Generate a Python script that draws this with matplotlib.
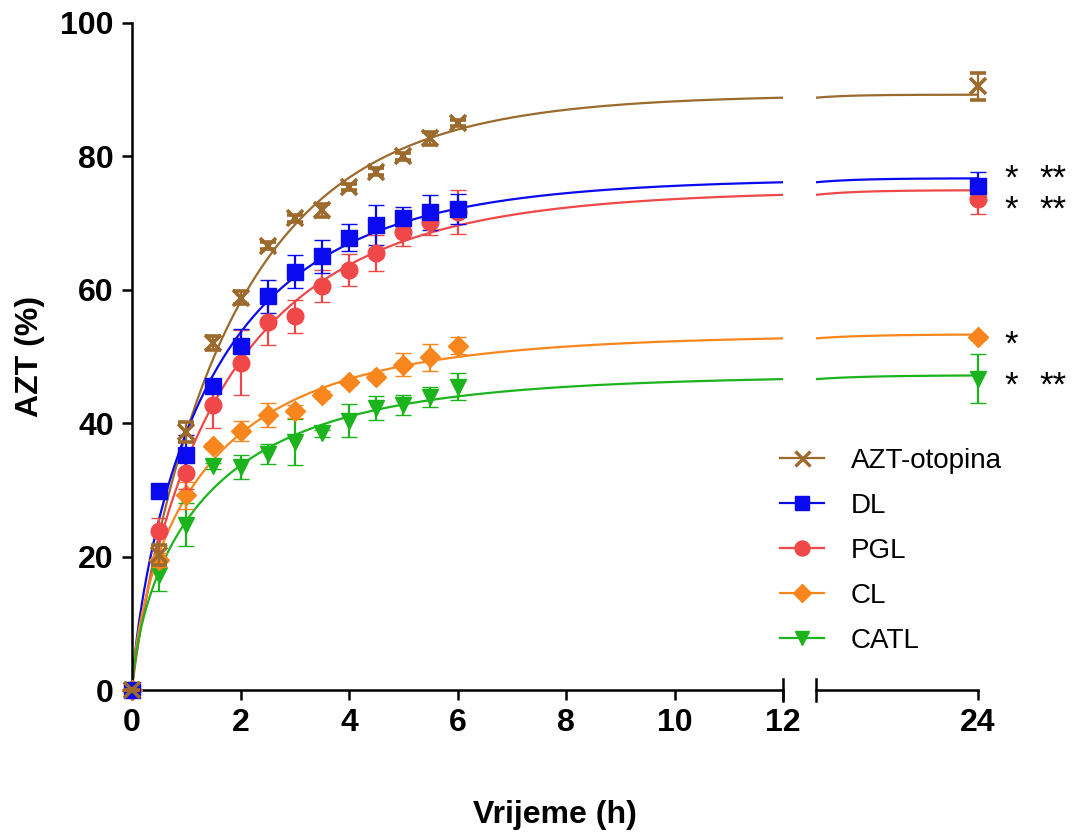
#!/usr/bin/env python
# AZT release profiles, broken time axis (0-12 h | 24 h)

import numpy as np
import matplotlib
matplotlib.use("Agg")
import matplotlib.pyplot as plt
from matplotlib.lines import Line2D

plt.rcParams['font.family'] = ['Liberation Sans', 'DejaVu Sans']

# time points (h)
t = [0, 0.5, 1, 1.5, 2, 2.5, 3, 3.5, 4, 4.5, 5, 5.5, 6, 24]

# released AZT (%), mean and SD
azt = [0, 20.3, 38.7, 52.0, 58.8, 66.6, 70.7, 71.9, 75.4, 77.7, 80.0, 82.7, 85.0, 90.5]
azt_sd = [0, 1.5, 1.5, 1.0, 1.0, 0.5, 0.5, 1.0, 0.5, 0.5, 0.5, 1.0, 0.5, 2.0]

dl = [0, 29.9, 35.3, 45.6, 51.6, 59.0, 62.7, 65.0, 67.8, 69.7, 70.7, 71.6, 72.1, 75.5]
dl_sd = [0, 0.5, 3.0, 1.0, 2.5, 2.5, 2.5, 2.5, 2.0, 3.0, 1.7, 2.6, 2.3, 2.2]

pgl = [0, 23.8, 32.6, 42.7, 49.1, 55.1, 56.0, 60.5, 62.9, 65.5, 68.6, 70.1, 71.6, 73.6]
pgl_sd = [0, 2.0, 2.5, 3.4, 4.9, 3.4, 2.5, 2.4, 2.4, 2.7, 2.0, 1.9, 3.3, 2.3]

cl = [0, 19.5, 29.2, 36.6, 38.8, 41.3, 41.8, 44.3, 46.2, 47.0, 48.8, 49.9, 51.6, 52.9]
cl_sd = [0, 1.0, 2.0, 0.5, 1.5, 1.8, 1.0, 0.5, 0.5, 0.5, 1.7, 2.0, 1.3, 0.5]

catl = [0, 17.3, 24.8, 33.6, 33.4, 35.4, 37.2, 38.5, 40.4, 42.3, 42.8, 43.9, 45.5, 46.7]
catl_sd = [0, 2.5, 3.2, 0.5, 1.8, 1.5, 3.5, 0.5, 2.5, 1.8, 1.5, 1.5, 2.0, 3.7]

labels = ['AZT-otopina', 'DL', 'PGL', 'CL', 'CATL']

# significance marks at 24 h: (first column, second column, text y position)
# DL and PGL share one two-line text, their rows are too close for separate boxes
signif_rows = [('*\n*', '**\n**', 74.25), ('*', '', 51.7), ('*', '**', 45.6)]

series = [azt, dl, pgl, cl, catl]
errors = [azt_sd, dl_sd, pgl_sd, cl_sd, catl_sd]
colors = ['#9B6A2C', '#0A0AF0', '#F04848', '#F8861C', '#1CB41C']
markers = ['x', 's', 'o', 'D', 'v']
msizes = [12, 11, 12, 10, 11]


def weibull_fit(x, y):
    # least squares fit of y = top * (1 - exp(-(x/k)^n)), grid over n and k
    x = np.asarray(x, float)
    y = np.asarray(y, float)
    best = None
    for n in np.linspace(0.3, 2.5, 111):
        for k in np.logspace(-1.5, 1.5, 241):
            f = 1 - np.exp(-(x / k) ** n)
            top = f @ y / (f @ f)
            sse = np.sum((top * f - y) ** 2)
            if best is None or sse < best[0]:
                best = (sse, top, k, n)
    return best[1:]


W, H = 1072, 832
fig = plt.figure(figsize=(W / 100, H / 100), dpi=100)
ax1 = fig.add_axes([132 / W, 1 - 690 / H, (783 - 132) / W, (690 - 23) / H])
ax2 = fig.add_axes([816 / W, 1 - 690 / H, (978 - 816) / W, (690 - 23) / H], sharey=ax1)

tt = np.linspace(0, 24, 2000)
tarr = np.array(t)
order = [4, 3, 2, 1, 0]  # brown drawn last, on top
for i in order:
    top, k, n = weibull_fit(t, series[i])
    fit = top * (1 - np.exp(-(tt / k) ** n))
    y = np.array(series[i])
    e = np.array(errors[i])
    for ax, m in ((ax1, tarr <= 12), (ax2, tarr > 12)):
        ax.plot(tt, fit, color=colors[i], lw=1.6, zorder=2 + i * 0.01)
        eb = ax.errorbar(tarr[m], y[m], yerr=e[m], fmt=markers[i], color=colors[i],
                         ms=msizes[i], mew=2.6 if markers[i] == 'x' else 1,
                         ecolor=colors[i], elinewidth=1.6, capsize=6, capthick=1.6,
                         zorder=3 + (4 - i) * 0.1)
        for a in eb.lines[0:1] + tuple(eb.lines[1]) + tuple(eb.lines[2]):
            a.set_clip_on(False)

ax1.set_xlim(0, 12)
ax1.set_ylim(0, 100)
ax2.set_xlim(12, 24)
ax1.set_xticks(range(0, 13, 2))
ax1.set_yticks(range(0, 101, 20))
ax2.set_xticks([24])

for ax in (ax1, ax2):
    ax.spines['top'].set_visible(False)
    ax.spines['right'].set_visible(False)
    for s in ax.spines.values():
        s.set_linewidth(1.8)
    ax.tick_params(width=1.8, length=7, labelsize=23, pad=6)
    for lab in ax.get_xticklabels() + ax.get_yticklabels():
        lab.set_fontweight('bold')
ax2.spines['left'].set_visible(False)
ax2.tick_params(axis='y', left=False, labelleft=False)

# break marks on the x axis
ax1.plot([1, 1], [-0.016, 0.016], color='black', lw=1.8, transform=ax1.transAxes, clip_on=False)
ax2.plot([0, 0], [-0.016, 0.016], color='black', lw=1.8, transform=ax2.transAxes, clip_on=False)

for first, second, ypos in signif_rows:
    ax2.annotate(first, xy=(24, ypos), xytext=(24, 0), textcoords='offset points',
                 ha='center', va='center', fontsize=25, linespacing=0.9,
                 annotation_clip=False)
    if second:
        ax2.annotate(second, xy=(24, ypos), xytext=(54, 0), textcoords='offset points',
                     ha='center', va='center', fontsize=25, linespacing=0.9,
                     annotation_clip=False)

fig.text(30 / W, 1 - 356 / H, 'AZT (%)', rotation=90, ha='center', va='center',
         fontsize=23, fontweight='bold')
fig.text(555 / W, 1 - 815 / H, 'Vrijeme (h)', ha='center', va='center',
         fontsize=23, fontweight='bold')

handles = [Line2D([], [], color=colors[i], marker=markers[i], ms=msizes[i] * 0.9,
                  mew=2.4 if markers[i] == 'x' else 1, lw=1.6) for i in range(5)]
fig.legend(handles, labels, loc='upper left', bbox_to_anchor=(780 / W, 1 - 448 / H),
           frameon=False, fontsize=20, handlelength=1.6, handletextpad=0.95,
           labelspacing=0.68, borderpad=0, borderaxespad=0)

fig.savefig('out.png', dpi=100)
